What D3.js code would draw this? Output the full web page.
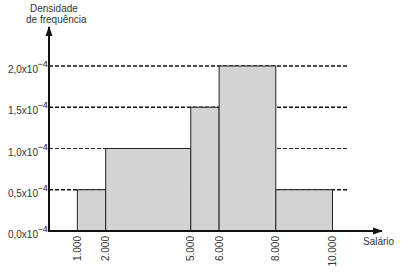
<!DOCTYPE html>
<html><head><meta charset="utf-8">
<script src="https://cdn.jsdelivr.net/npm/d3@7"></script>
<style>body{margin:0;background:#fff}svg{display:block;font-family:"Liberation Sans",Arial,sans-serif}</style>
</head><body><svg id="c" width="408" height="276"></svg>
<script>
const binStarts = [1000, 2000, 5000, 6000, 8000];
const binEnds = [2000, 5000, 6000, 8000, 10000];
const densities = [0.5, 1.0, 1.5, 2.0, 0.5];
const xTicks = [1000, 2000, 5000, 6000, 8000, 10000];
const xTickLabels = ["1.000", "2.000", "5.000", "6.000", "8.000", "10.000"];
const yTicks = [0, 0.5, 1.0, 1.5, 2.0];
const yTickLabels = ["0,0x10", "0,5x10", "1,0x10", "1,5x10", "2,0x10"];
const thickLines = [0.5, 1.5, 2.0];

const svg = d3.select("#c");
const x = d3.scaleLinear().domain([0, 10000]).range([49, 332.5]);
const y = d3.scaleLinear().domain([0, 2.0]).range([231, 66]);

// dashed reference lines
svg.append("g").selectAll("line").data(yTicks.filter(d => d > 0)).join("line")
  .attr("x1", x(0)).attr("x2", 347)
  .attr("y1", d => y(d)).attr("y2", d => y(d))
  .attr("stroke", "#111")
  .attr("stroke-width", d => thickLines.includes(d) ? 1.6 : 0.9)
  .attr("stroke-dasharray", "4,2");

// bars
svg.append("g").selectAll("rect").data(densities).join("rect")
  .attr("x", (d, i) => x(binStarts[i]))
  .attr("width", (d, i) => x(binEnds[i]) - x(binStarts[i]))
  .attr("y", d => y(d))
  .attr("height", d => y(0) - y(d))
  .attr("fill", "#d3d3d3")
  .attr("stroke", "#222")
  .attr("stroke-width", 1);

// axes
const defs = svg.append("defs");
defs.append("marker").attr("id", "arr").attr("viewBox", "0 0 10 10")
  .attr("refX", 9).attr("refY", 5).attr("markerWidth", 5).attr("markerHeight", 5)
  .attr("orient", "auto").append("path").attr("d", "M0,1.5L10,5L0,8.5Z").attr("fill", "#111");

svg.append("line").attr("x1", x(0)).attr("x2", 382).attr("y1", y(0)).attr("y2", y(0))
  .attr("stroke", "#111").attr("stroke-width", 2).attr("marker-end", "url(#arr)");
svg.append("line").attr("x1", x(0)).attr("x2", x(0)).attr("y1", y(0) + 1).attr("y2", 27)
  .attr("stroke", "#111").attr("stroke-width", 2).attr("marker-end", "url(#arr)");

// x tick labels (rotated)
svg.append("g").selectAll("text").data(xTicks).join("text")
  .attr("transform", d => `translate(${x(d) + 3.5},236) rotate(-90)`)
  .attr("text-anchor", "end")
  .attr("font-size", 10).attr("fill", "#333")
  .text((d, i) => xTickLabels[i]);

// y tick labels with superscript
const yl = svg.append("g").selectAll("g").data(yTicks).join("g");
yl.append("text").attr("x", 38).attr("y", d => y(d) + 7)
  .attr("text-anchor", "end").attr("font-size", 10).attr("fill", "#333")
  .text((d, i) => yTickLabels[i]);
yl.append("text").attr("x", 37.5).attr("y", d => y(d) + 1)
  .attr("font-size", 9).attr("fill", "#222").text("\u22124");

// titles
svg.append("text").attr("x", 30).attr("y", 12).attr("font-size", 10).attr("fill", "#333").text("Densidade");
svg.append("text").attr("x", 26).attr("y", 23).attr("font-size", 10).attr("fill", "#333").text("de frequência");
svg.append("text").attr("x", 363).attr("y", 245).attr("font-size", 10).attr("fill", "#333").text("Salário");
</script></body></html>
